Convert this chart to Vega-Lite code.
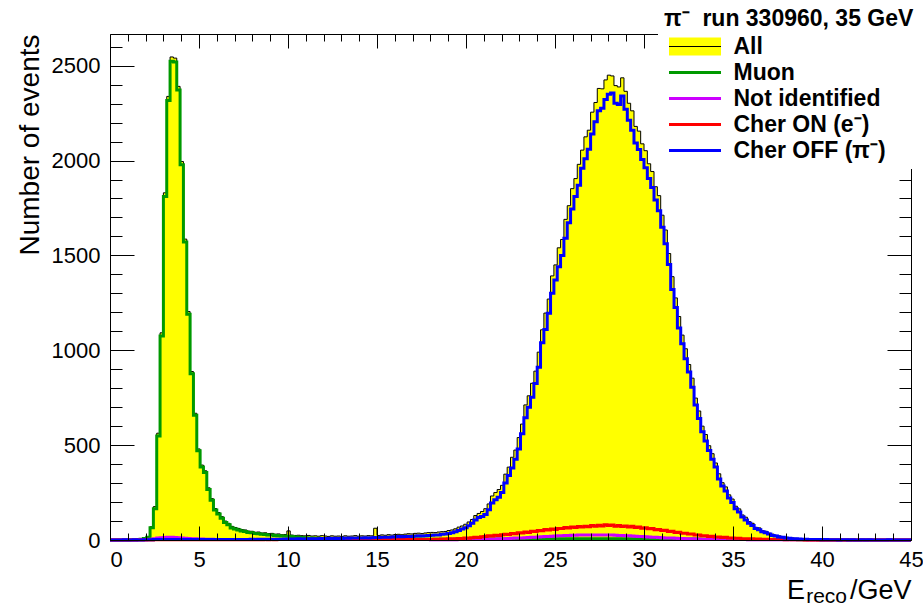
{
"$schema": "https://vega.github.io/schema/vega-lite/v6.json",
"width": 801, "height": 506,
"autosize": {"type": "none"},
"padding": {"left": 110, "top": 34, "right": 12, "bottom": 66},
"background": "white",
"config": {"view": {"stroke": null}, "axis": {"grid": false}},
"title": {"text": "reco", "orient": "bottom", "anchor": "end", "frame": "group", "font": "Liberation Sans", "fontSize": 21, "fontWeight": "normal", "color": "black", "dx": -64, "offset": -17},
"data": {"values": [
{"e":0,"all":0,"mu":0,"ni":0,"con":0,"coff":0},
{"e":0.1875,"all":0,"mu":0,"ni":0,"con":0,"coff":0},
{"e":0.375,"all":0,"mu":0,"ni":0,"con":0,"coff":0},
{"e":0.5625,"all":0,"mu":0,"ni":0,"con":0,"coff":0},
{"e":0.75,"all":1,"mu":0,"ni":0,"con":0,"coff":1},
{"e":0.9375,"all":0,"mu":0,"ni":0,"con":0,"coff":0},
{"e":1.125,"all":1,"mu":1,"ni":0,"con":0,"coff":0},
{"e":1.3125,"all":2,"mu":1,"ni":0,"con":0,"coff":1},
{"e":1.5,"all":3,"mu":2,"ni":1,"con":0,"coff":0},
{"e":1.6875,"all":5,"mu":4,"ni":1,"con":0,"coff":0},
{"e":1.875,"all":10,"mu":8,"ni":1,"con":0,"coff":1},
{"e":2.0625,"all":18,"mu":15,"ni":2,"con":0,"coff":1},
{"e":2.25,"all":70,"mu":64,"ni":4,"con":0,"coff":1},
{"e":2.4375,"all":176,"mu":165,"ni":7,"con":1,"coff":2},
{"e":2.625,"all":563,"mu":548,"ni":10,"con":1,"coff":2},
{"e":2.8125,"all":1092,"mu":1075,"ni":12,"con":1,"coff":2},
{"e":3,"all":1830,"mu":1810,"ni":13,"con":1,"coff":3},
{"e":3.1875,"all":2338,"mu":2316,"ni":14,"con":1,"coff":3},
{"e":3.375,"all":2546,"mu":2524,"ni":14,"con":1,"coff":3},
{"e":3.5625,"all":2540,"mu":2520,"ni":13,"con":1,"coff":3},
{"e":3.75,"all":2391,"mu":2372,"ni":12,"con":1,"coff":3},
{"e":3.9375,"all":1995,"mu":1978,"ni":10,"con":1,"coff":3},
{"e":4.125,"all":1586,"mu":1571,"ni":9,"con":1,"coff":3},
{"e":4.3125,"all":1204,"mu":1190,"ni":8,"con":1,"coff":3},
{"e":4.5,"all":888,"mu":876,"ni":7,"con":1,"coff":3},
{"e":4.6875,"all":668,"mu":657,"ni":6,"con":1,"coff":3},
{"e":4.875,"all":480,"mu":470,"ni":5,"con":1,"coff":3},
{"e":5.0625,"all":395,"mu":385,"ni":5,"con":1,"coff":3},
{"e":5.25,"all":365,"mu":356,"ni":4,"con":1,"coff":3},
{"e":5.4375,"all":275,"mu":266,"ni":4,"con":1,"coff":3},
{"e":5.625,"all":218,"mu":210,"ni":4,"con":1,"coff":3},
{"e":5.8125,"all":166,"mu":158,"ni":3,"con":1,"coff":3},
{"e":6,"all":145,"mu":137,"ni":3,"con":1,"coff":3},
{"e":6.1875,"all":123,"mu":115,"ni":3,"con":1,"coff":3},
{"e":6.375,"all":100,"mu":92,"ni":3,"con":1,"coff":3},
{"e":6.5625,"all":88,"mu":80,"ni":3,"con":1,"coff":3},
{"e":6.75,"all":72,"mu":63,"ni":3,"con":1,"coff":3},
{"e":6.9375,"all":66,"mu":58,"ni":3,"con":1,"coff":3},
{"e":7.125,"all":61,"mu":53,"ni":3,"con":1,"coff":3},
{"e":7.3125,"all":55,"mu":47,"ni":3,"con":1,"coff":3},
{"e":7.5,"all":53,"mu":45,"ni":3,"con":1,"coff":3},
{"e":7.6875,"all":47,"mu":40,"ni":2,"con":1,"coff":3},
{"e":7.875,"all":46,"mu":38,"ni":2,"con":1,"coff":4},
{"e":8.0625,"all":41,"mu":34,"ni":2,"con":1,"coff":3},
{"e":8.25,"all":42,"mu":33,"ni":2,"con":1,"coff":4},
{"e":8.4375,"all":37,"mu":30,"ni":2,"con":1,"coff":4},
{"e":8.625,"all":38,"mu":29,"ni":2,"con":2,"coff":4},
{"e":8.8125,"all":34,"mu":27,"ni":2,"con":1,"coff":4},
{"e":9,"all":35,"mu":26,"ni":2,"con":2,"coff":4},
{"e":9.1875,"all":31,"mu":24,"ni":2,"con":1,"coff":4},
{"e":9.375,"all":32,"mu":23,"ni":2,"con":2,"coff":4},
{"e":9.5625,"all":28,"mu":21,"ni":2,"con":2,"coff":4},
{"e":9.75,"all":29,"mu":21,"ni":2,"con":2,"coff":5},
{"e":9.9375,"all":48,"mu":20,"ni":2,"con":2,"coff":5},
{"e":10.125,"all":26,"mu":18,"ni":2,"con":2,"coff":5},
{"e":10.3125,"all":24,"mu":16,"ni":2,"con":2,"coff":5},
{"e":10.5,"all":25,"mu":14,"ni":2,"con":2,"coff":6},
{"e":10.6875,"all":23,"mu":13,"ni":2,"con":2,"coff":5},
{"e":10.875,"all":22,"mu":12,"ni":2,"con":2,"coff":5},
{"e":11.0625,"all":24,"mu":11,"ni":2,"con":2,"coff":6},
{"e":11.25,"all":21,"mu":10,"ni":2,"con":2,"coff":6},
{"e":11.4375,"all":22,"mu":9,"ni":2,"con":2,"coff":7},
{"e":11.625,"all":20,"mu":9,"ni":2,"con":2,"coff":6},
{"e":11.8125,"all":23,"mu":8,"ni":2,"con":2,"coff":8},
{"e":12,"all":21,"mu":7,"ni":2,"con":2,"coff":8},
{"e":12.1875,"all":19,"mu":7,"ni":2,"con":2,"coff":7},
{"e":12.375,"all":22,"mu":7,"ni":2,"con":2,"coff":9},
{"e":12.5625,"all":20,"mu":7,"ni":2,"con":2,"coff":8},
{"e":12.75,"all":21,"mu":7,"ni":2,"con":2,"coff":9},
{"e":12.9375,"all":19,"mu":7,"ni":2,"con":2,"coff":8},
{"e":13.125,"all":22,"mu":7,"ni":2,"con":2,"coff":10},
{"e":13.3125,"all":20,"mu":6,"ni":2,"con":2,"coff":9},
{"e":13.5,"all":21,"mu":6,"ni":2,"con":2,"coff":10},
{"e":13.6875,"all":23,"mu":6,"ni":2,"con":2,"coff":11},
{"e":13.875,"all":20,"mu":6,"ni":2,"con":2,"coff":10},
{"e":14.0625,"all":22,"mu":6,"ni":2,"con":3,"coff":11},
{"e":14.25,"all":21,"mu":6,"ni":2,"con":3,"coff":12},
{"e":14.4375,"all":23,"mu":6,"ni":2,"con":3,"coff":11},
{"e":14.625,"all":22,"mu":6,"ni":2,"con":3,"coff":12},
{"e":14.8125,"all":62,"mu":6,"ni":2,"con":3,"coff":13},
{"e":15,"all":24,"mu":6,"ni":2,"con":3,"coff":13},
{"e":15.1875,"all":27,"mu":5,"ni":2,"con":3,"coff":14},
{"e":15.375,"all":25,"mu":5,"ni":2,"con":3,"coff":15},
{"e":15.5625,"all":28,"mu":5,"ni":2,"con":3,"coff":15},
{"e":15.75,"all":26,"mu":5,"ni":2,"con":3,"coff":16},
{"e":15.9375,"all":29,"mu":5,"ni":2,"con":3,"coff":17},
{"e":16.125,"all":30,"mu":5,"ni":2,"con":3,"coff":18},
{"e":16.3125,"all":28,"mu":5,"ni":2,"con":3,"coff":17},
{"e":16.5,"all":31,"mu":5,"ni":2,"con":3,"coff":19},
{"e":16.6875,"all":33,"mu":5,"ni":2,"con":3,"coff":20},
{"e":16.875,"all":32,"mu":5,"ni":2,"con":3,"coff":19},
{"e":17.0625,"all":35,"mu":5,"ni":2,"con":3,"coff":21},
{"e":17.25,"all":36,"mu":5,"ni":2,"con":3,"coff":22},
{"e":17.4375,"all":34,"mu":4,"ni":2,"con":3,"coff":21},
{"e":17.625,"all":37,"mu":4,"ni":2,"con":3,"coff":23},
{"e":17.8125,"all":39,"mu":4,"ni":2,"con":3,"coff":24},
{"e":18,"all":40,"mu":4,"ni":1,"con":3,"coff":25},
{"e":18.1875,"all":39,"mu":4,"ni":1,"con":4,"coff":26},
{"e":18.375,"all":42,"mu":4,"ni":1,"con":3,"coff":27},
{"e":18.5625,"all":44,"mu":4,"ni":1,"con":5,"coff":30},
{"e":18.75,"all":45,"mu":4,"ni":1,"con":4,"coff":31},
{"e":18.9375,"all":50,"mu":4,"ni":1,"con":6,"coff":34},
{"e":19.125,"all":53,"mu":4,"ni":1,"con":5,"coff":38},
{"e":19.3125,"all":59,"mu":4,"ni":1,"con":7,"coff":44},
{"e":19.5,"all":68,"mu":4,"ni":2,"con":8,"coff":50},
{"e":19.6875,"all":74,"mu":4,"ni":2,"con":7,"coff":58},
{"e":19.875,"all":83,"mu":4,"ni":2,"con":10,"coff":64},
{"e":20.0625,"all":95,"mu":4,"ni":2,"con":9,"coff":75},
{"e":20.25,"all":108,"mu":4,"ni":2,"con":12,"coff":88},
{"e":20.4375,"all":129,"mu":4,"ni":2,"con":14,"coff":105},
{"e":20.625,"all":140,"mu":4,"ni":2,"con":13,"coff":118},
{"e":20.8125,"all":150,"mu":5,"ni":2,"con":17,"coff":124},
{"e":21,"all":165,"mu":5,"ni":4,"con":18,"coff":135},
{"e":21.1875,"all":190,"mu":5,"ni":4,"con":22,"coff":160},
{"e":21.375,"all":232,"mu":5,"ni":5,"con":21,"coff":195},
{"e":21.5625,"all":250,"mu":5,"ni":5,"con":25,"coff":212},
{"e":21.75,"all":266,"mu":5,"ni":6,"con":24,"coff":225},
{"e":21.9375,"all":288,"mu":5,"ni":7,"con":28,"coff":250},
{"e":22.125,"all":347,"mu":5,"ni":7,"con":30,"coff":300},
{"e":22.3125,"all":384,"mu":5,"ni":8,"con":29,"coff":340},
{"e":22.5,"all":436,"mu":5,"ni":9,"con":34,"coff":380},
{"e":22.6875,"all":474,"mu":5,"ni":10,"con":33,"coff":425},
{"e":22.875,"all":540,"mu":5,"ni":10,"con":38,"coff":480},
{"e":23.0625,"all":611,"mu":5,"ni":11,"con":37,"coff":560},
{"e":23.25,"all":712,"mu":5,"ni":12,"con":42,"coff":645},
{"e":23.4375,"all":760,"mu":5,"ni":13,"con":40,"coff":700},
{"e":23.625,"all":826,"mu":6,"ni":14,"con":46,"coff":752},
{"e":23.8125,"all":890,"mu":6,"ni":15,"con":45,"coff":825},
{"e":24,"all":990,"mu":6,"ni":16,"con":50,"coff":910},
{"e":24.1875,"all":1108,"mu":6,"ni":17,"con":49,"coff":1040},
{"e":24.375,"all":1196,"mu":6,"ni":18,"con":55,"coff":1110},
{"e":24.5625,"all":1270,"mu":6,"ni":19,"con":53,"coff":1195},
{"e":24.75,"all":1392,"mu":6,"ni":20,"con":58,"coff":1300},
{"e":24.9375,"all":1450,"mu":6,"ni":21,"con":55,"coff":1370},
{"e":25.125,"all":1540,"mu":6,"ni":22,"con":61,"coff":1440},
{"e":25.3125,"all":1584,"mu":6,"ni":23,"con":60,"coff":1500},
{"e":25.5,"all":1690,"mu":6,"ni":24,"con":66,"coff":1590},
{"e":25.6875,"all":1762,"mu":6,"ni":24,"con":63,"coff":1672},
{"e":25.875,"all":1852,"mu":6,"ni":25,"con":68,"coff":1745},
{"e":26.0625,"all":1905,"mu":6,"ni":25,"con":66,"coff":1810},
{"e":26.25,"all":1980,"mu":6,"ni":26,"con":71,"coff":1870},
{"e":26.4375,"all":2055,"mu":6,"ni":26,"con":68,"coff":1960},
{"e":26.625,"all":2125,"mu":6,"ni":27,"con":73,"coff":2010},
{"e":26.8125,"all":2160,"mu":6,"ni":27,"con":70,"coff":2060},
{"e":27,"all":2255,"mu":6,"ni":27,"con":76,"coff":2140},
{"e":27.1875,"all":2306,"mu":6,"ni":27,"con":72,"coff":2205},
{"e":27.375,"all":2380,"mu":6,"ni":27,"con":78,"coff":2262},
{"e":27.5625,"all":2378,"mu":6,"ni":27,"con":74,"coff":2275},
{"e":27.75,"all":2425,"mu":6,"ni":27,"con":80,"coff":2322},
{"e":27.9375,"all":2450,"mu":6,"ni":26,"con":76,"coff":2350},
{"e":28.125,"all":2446,"mu":6,"ni":26,"con":79,"coff":2356},
{"e":28.3125,"all":2395,"mu":6,"ni":25,"con":73,"coff":2302},
{"e":28.5,"all":2388,"mu":6,"ni":24,"con":77,"coff":2296},
{"e":28.6875,"all":2436,"mu":6,"ni":24,"con":71,"coff":2340},
{"e":28.875,"all":2365,"mu":6,"ni":23,"con":74,"coff":2270},
{"e":29.0625,"all":2302,"mu":6,"ni":22,"con":69,"coff":2212},
{"e":29.25,"all":2262,"mu":6,"ni":21,"con":72,"coff":2160},
{"e":29.4375,"all":2180,"mu":6,"ni":20,"con":66,"coff":2092},
{"e":29.625,"all":2155,"mu":6,"ni":19,"con":68,"coff":2058},
{"e":29.8125,"all":2088,"mu":6,"ni":18,"con":62,"coff":2005},
{"e":30,"all":2052,"mu":6,"ni":17,"con":65,"coff":1962},
{"e":30.1875,"all":1983,"mu":5,"ni":16,"con":59,"coff":1905},
{"e":30.375,"all":1942,"mu":5,"ni":15,"con":60,"coff":1858},
{"e":30.5625,"all":1862,"mu":5,"ni":14,"con":54,"coff":1792},
{"e":30.75,"all":1815,"mu":5,"ni":13,"con":56,"coff":1735},
{"e":30.9375,"all":1712,"mu":5,"ni":12,"con":50,"coff":1648},
{"e":31.125,"all":1634,"mu":5,"ni":11,"con":51,"coff":1562},
{"e":31.3125,"all":1510,"mu":5,"ni":11,"con":45,"coff":1452},
{"e":31.5,"all":1388,"mu":5,"ni":10,"con":46,"coff":1320},
{"e":31.6875,"all":1276,"mu":5,"ni":9,"con":40,"coff":1225},
{"e":31.875,"all":1178,"mu":5,"ni":8,"con":41,"coff":1118},
{"e":32.0625,"all":1080,"mu":5,"ni":8,"con":36,"coff":1035},
{"e":32.25,"all":1008,"mu":5,"ni":7,"con":36,"coff":955},
{"e":32.4375,"all":925,"mu":5,"ni":6,"con":31,"coff":885},
{"e":32.625,"all":853,"mu":5,"ni":6,"con":32,"coff":805},
{"e":32.8125,"all":748,"mu":5,"ni":5,"con":27,"coff":712},
{"e":33,"all":680,"mu":4,"ni":5,"con":27,"coff":640},
{"e":33.1875,"all":600,"mu":4,"ni":4,"con":23,"coff":570},
{"e":33.375,"all":556,"mu":4,"ni":4,"con":23,"coff":522},
{"e":33.5625,"all":497,"mu":4,"ni":4,"con":19,"coff":472},
{"e":33.75,"all":455,"mu":4,"ni":3,"con":20,"coff":425},
{"e":33.9375,"all":406,"mu":4,"ni":3,"con":16,"coff":385},
{"e":34.125,"all":349,"mu":4,"ni":3,"con":16,"coff":322},
{"e":34.3125,"all":302,"mu":4,"ni":2,"con":13,"coff":285},
{"e":34.5,"all":280,"mu":4,"ni":2,"con":14,"coff":258},
{"e":34.6875,"all":238,"mu":4,"ni":2,"con":11,"coff":222},
{"e":34.875,"all":216,"mu":3,"ni":2,"con":11,"coff":198},
{"e":35.0625,"all":178,"mu":3,"ni":2,"con":9,"coff":165},
{"e":35.25,"all":164,"mu":3,"ni":2,"con":9,"coff":148},
{"e":35.4375,"all":132,"mu":3,"ni":2,"con":7,"coff":121},
{"e":35.625,"all":120,"mu":3,"ni":2,"con":7,"coff":106},
{"e":35.8125,"all":97,"mu":3,"ni":1,"con":6,"coff":88},
{"e":36,"all":88,"mu":3,"ni":1,"con":6,"coff":76},
{"e":36.1875,"all":67,"mu":3,"ni":1,"con":4,"coff":60},
{"e":36.375,"all":64,"mu":3,"ni":1,"con":5,"coff":54},
{"e":36.5625,"all":49,"mu":3,"ni":1,"con":3,"coff":43},
{"e":36.75,"all":46,"mu":2,"ni":1,"con":4,"coff":38},
{"e":36.9375,"all":36,"mu":2,"ni":1,"con":3,"coff":31},
{"e":37.125,"all":31,"mu":2,"ni":1,"con":3,"coff":24},
{"e":37.3125,"all":25,"mu":2,"ni":1,"con":2,"coff":21},
{"e":37.5,"all":22,"mu":2,"ni":1,"con":2,"coff":16},
{"e":37.6875,"all":18,"mu":2,"ni":1,"con":2,"coff":14},
{"e":37.875,"all":15,"mu":2,"ni":1,"con":1,"coff":10},
{"e":38.0625,"all":13,"mu":2,"ni":1,"con":2,"coff":9},
{"e":38.25,"all":11,"mu":2,"ni":1,"con":1,"coff":7},
{"e":38.4375,"all":9,"mu":2,"ni":1,"con":1,"coff":6},
{"e":38.625,"all":8,"mu":1,"ni":1,"con":1,"coff":5},
{"e":38.8125,"all":7,"mu":1,"ni":1,"con":1,"coff":4},
{"e":39,"all":6,"mu":1,"ni":1,"con":0,"coff":4},
{"e":39.1875,"all":5,"mu":1,"ni":0,"con":1,"coff":3},
{"e":39.375,"all":4,"mu":1,"ni":0,"con":0,"coff":3},
{"e":39.5625,"all":4,"mu":1,"ni":0,"con":1,"coff":2},
{"e":39.75,"all":3,"mu":0,"ni":0,"con":0,"coff":2},
{"e":39.9375,"all":2,"mu":0,"ni":0,"con":0,"coff":1},
{"e":40.125,"all":2,"mu":0,"ni":0,"con":0,"coff":2},
{"e":40.3125,"all":1,"mu":0,"ni":0,"con":0,"coff":1},
{"e":40.5,"all":2,"mu":0,"ni":0,"con":0,"coff":1},
{"e":40.6875,"all":1,"mu":0,"ni":0,"con":0,"coff":1},
{"e":40.875,"all":1,"mu":0,"ni":0,"con":0,"coff":0},
{"e":41.0625,"all":1,"mu":0,"ni":0,"con":0,"coff":1},
{"e":41.25,"all":1,"mu":0,"ni":0,"con":0,"coff":1},
{"e":41.4375,"all":0,"mu":0,"ni":0,"con":0,"coff":0},
{"e":41.625,"all":1,"mu":0,"ni":0,"con":0,"coff":1},
{"e":41.8125,"all":0,"mu":0,"ni":0,"con":0,"coff":0},
{"e":42,"all":1,"mu":0,"ni":0,"con":0,"coff":0},
{"e":42.1875,"all":1,"mu":0,"ni":0,"con":0,"coff":1},
{"e":42.375,"all":0,"mu":0,"ni":0,"con":0,"coff":0},
{"e":42.5625,"all":1,"mu":0,"ni":0,"con":0,"coff":1},
{"e":42.75,"all":0,"mu":0,"ni":0,"con":0,"coff":0},
{"e":42.9375,"all":0,"mu":0,"ni":0,"con":0,"coff":0},
{"e":43.125,"all":1,"mu":0,"ni":0,"con":0,"coff":0},
{"e":43.3125,"all":0,"mu":0,"ni":0,"con":0,"coff":0},
{"e":43.5,"all":0,"mu":0,"ni":0,"con":0,"coff":0},
{"e":43.6875,"all":1,"mu":0,"ni":0,"con":0,"coff":1},
{"e":43.875,"all":0,"mu":0,"ni":0,"con":0,"coff":0},
{"e":44.0625,"all":0,"mu":0,"ni":0,"con":0,"coff":0},
{"e":44.25,"all":0,"mu":0,"ni":0,"con":0,"coff":0},
{"e":44.4375,"all":0,"mu":0,"ni":0,"con":0,"coff":0},
{"e":44.625,"all":1,"mu":0,"ni":0,"con":0,"coff":0},
{"e":44.8125,"all":0,"mu":0,"ni":0,"con":0,"coff":0},
{"e":45,"all":0,"mu":0,"ni":0,"con":0,"coff":0}
]},
"layer": [
{"mark": {"type": "area", "interpolate": "step-after", "color": "#ffff00"},
 "encoding": {
  "x": {"field": "e", "type": "quantitative", "scale": {"domain": [0, 45], "nice": false, "zero": false},
   "axis": {"orient": "bottom", "values": [0,1,2,3,4,5,6,7,8,9,10,11,12,13,14,15,16,17,18,19,20,21,22,23,24,25,26,27,28,29,30,31,32,33,34,35,36,37,38,39,40,41,42,43,44,45],
    "format": "d", "labelExpr": "datum.value % 5 === 0 ? datum.label : ''", "labelFlush": false, "labelOverlap": false,
    "labelAlign": {"condition": {"test": "datum.value === 0", "value": "left"}, "value": "center"},
    "labelFont": "Liberation Sans", "labelFontSize": 22, "labelColor": "black", "labelPadding": 23,
    "tickSize": {"condition": {"test": "datum.value % 5 === 0", "value": -14}, "value": -7},
    "tickColor": "black", "tickWidth": 1, "domainColor": "black", "domainWidth": 1, "grid": false, "zindex": 1,
    "title": "E\u00a0\u00a0\u00a0\u00a0\u00a0\u00a0/GeV", "titleAnchor": "end", "titleFont": "Liberation Sans", "titleFontSize": 27, "titleFontWeight": "normal", "titleColor": "black", "titlePadding": 0}},
  "y": {"field": "all", "type": "quantitative", "scale": {"domain": [0, 2667], "nice": false},
   "axis": {"orient": "left", "values": [0,100,200,300,400,500,600,700,800,900,1000,1100,1200,1300,1400,1500,1600,1700,1800,1900,2000,2100,2200,2300,2400,2500,2600],
    "format": "d", "labelExpr": "datum.value % 500 === 0 ? datum.label : ''", "labelOverlap": false,
    "labelFont": "Liberation Sans", "labelFontSize": 22, "labelColor": "black", "labelPadding": 34,
    "tickSize": {"condition": {"test": "datum.value % 500 === 0", "value": -24}, "value": -12},
    "tickColor": "black", "tickWidth": 1, "domainColor": "black", "domainWidth": 1, "grid": false, "zindex": 1,
    "title": "Number of events", "titleAnchor": "end", "titleFont": "Liberation Sans", "titleFontSize": 28, "titleFontWeight": "normal", "titleColor": "black", "titlePadding": 7}}
 }},
{"mark": {"type": "line", "interpolate": "step-after", "strokeWidth": 1},
 "encoding": {
  "x": {"field": "e", "type": "quantitative", "scale": {"domain": [0, 45], "nice": false, "zero": false},
   "axis": {"orient": "top", "values": [0,1,2,3,4,5,6,7,8,9,10,11,12,13,14,15,16,17,18,19,20,21,22,23,24,25,26,27,28,29,30,31,32,33,34,35,36,37,38,39,40,41,42,43,44,45],
    "labels": false, "title": null,
    "tickSize": {"condition": {"test": "datum.value % 5 === 0", "value": -14}, "value": -7},
    "tickColor": "black", "tickWidth": 1, "domainColor": "black", "domainWidth": 1, "grid": false, "zindex": 1}},
  "y": {"field": "all", "type": "quantitative", "scale": {"domain": [0, 2667], "nice": false},
   "axis": {"orient": "right", "values": [0,100,200,300,400,500,600,700,800,900,1000,1100,1200,1300,1400,1500,1600,1700,1800,1900,2000,2100,2200,2300,2400,2500,2600],
    "labels": false, "title": null,
    "tickSize": {"condition": {"test": "datum.value % 500 === 0", "value": -24}, "value": -12},
    "tickColor": "black", "tickWidth": 1, "domainColor": "black", "domainWidth": 1, "grid": false, "zindex": 1}},
  "stroke": {"datum": "All",
   "scale": {"domain": ["All", "Muon", "Not identified", "Cher ON (e⁻)", "Cher OFF (π⁻)"], "range": ["#000000", "#009900", "#cc00ff", "#ff0000", "#0000ff"]},
   "legend": {"orient": "none", "legendX": 548, "legendY": -32, "direction": "vertical",
    "title": "π⁻\u00a0 run 330960, 35 GeV", "titleFont": "Liberation Sans", "titleFontSize": 23, "titleFontWeight": "bold", "titleColor": "black", "titleLimit": 400, "titlePadding": 4,
    "labelFont": "Liberation Sans", "labelFontSize": 23, "labelFontWeight": "bold", "labelColor": "black", "labelLimit": 400, "labelOffset": 27,
    "symbolType": "M-2.6,0H2.6", "symbolSize": 400, "symbolStrokeWidth": 3, "symbolOffset": 19.5,
    "rowPadding": 2, "padding": 6, "fillColor": "white", "zindex": 2,
    "encode": {"symbols": {"update": {
     "shape": {"signal": "datum.value === 'All' ? 'M-2.6,0H2.6V0.9H-2.6V-0.9H2.6V0Z' : 'M-2.6,0H2.6'"},
     "fill": {"signal": "datum.value === 'All' ? '#ffff00' : 'transparent'"},
     "strokeWidth": {"signal": "datum.value === 'All' ? 1 : 3"},
     "strokeDash": {"signal": "datum.value === 'All' ? [52, 1000] : [1, 0]"}
    }}}}}
 }},
{"mark": {"type": "line", "interpolate": "step-after", "strokeWidth": 3},
 "encoding": {
  "x": {"field": "e", "type": "quantitative", "scale": {"domain": [0, 45], "nice": false, "zero": false}, "axis": null},
  "y": {"field": "mu", "type": "quantitative", "scale": {"domain": [0, 2667], "nice": false}, "axis": null},
  "stroke": {"datum": "Muon"}
 }},
{"mark": {"type": "line", "interpolate": "step-after", "strokeWidth": 3},
 "encoding": {
  "x": {"field": "e", "type": "quantitative", "scale": {"domain": [0, 45], "nice": false, "zero": false}, "axis": null},
  "y": {"field": "ni", "type": "quantitative", "scale": {"domain": [0, 2667], "nice": false}, "axis": null},
  "stroke": {"datum": "Not identified"}
 }},
{"mark": {"type": "line", "interpolate": "step-after", "strokeWidth": 3},
 "encoding": {
  "x": {"field": "e", "type": "quantitative", "scale": {"domain": [0, 45], "nice": false, "zero": false}, "axis": null},
  "y": {"field": "con", "type": "quantitative", "scale": {"domain": [0, 2667], "nice": false}, "axis": null},
  "stroke": {"datum": "Cher ON (e⁻)"}
 }},
{"mark": {"type": "line", "interpolate": "step-after", "strokeWidth": 3},
 "encoding": {
  "x": {"field": "e", "type": "quantitative", "scale": {"domain": [0, 45], "nice": false, "zero": false}, "axis": null},
  "y": {"field": "coff", "type": "quantitative", "scale": {"domain": [0, 2667], "nice": false}, "axis": null},
  "stroke": {"datum": "Cher OFF (π⁻)"}
 }}
],
"resolve": {"axis": {"x": "independent", "y": "independent"}}
}
